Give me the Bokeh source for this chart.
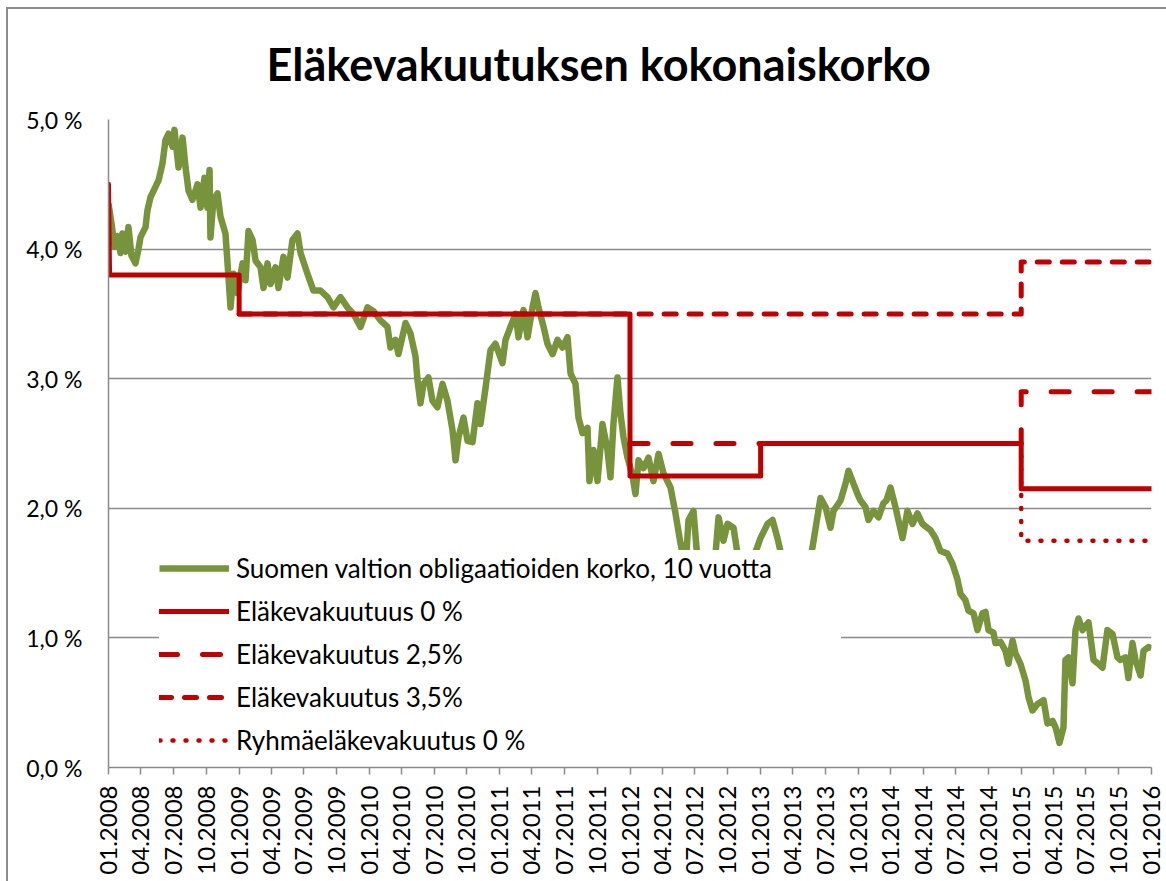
import math
import numpy as np
import pandas as pd
from bokeh.plotting import figure
from bokeh.models import Range1d, FixedTicker, DatetimeTickFormatter, Legend, LegendItem
from bokeh.embed import file_html
from bokeh.resources import INLINE

# ---- data -------------------------------------------------------------
# Suomen valtion obligaatioiden korko, 10 vuotta: years since 01.01.2008, value in %
bond_t = [0.000, 0.023, 0.046, 0.069, 0.092, 0.107, 0.130, 0.153, 0.176, 0.207,
          0.230, 0.245, 0.284, 0.299, 0.322, 0.360, 0.384, 0.414, 0.437, 0.460,
          0.491, 0.506, 0.537, 0.568, 0.591, 0.614, 0.644, 0.683, 0.706, 0.736,
          0.759, 0.775, 0.782, 0.805, 0.836, 0.859, 0.897, 0.913, 0.936, 0.959,
          0.989, 1.028, 1.051, 1.074, 1.105, 1.128, 1.166, 1.189, 1.220, 1.243,
          1.281, 1.304, 1.342, 1.373, 1.411, 1.450, 1.473, 1.526, 1.572, 1.626,
          1.680, 1.726, 1.779, 1.833, 1.879, 1.933, 1.987, 2.033, 2.086, 2.140,
          2.163, 2.201, 2.224, 2.278, 2.316, 2.355, 2.370, 2.393, 2.416, 2.454,
          2.485, 2.523, 2.562, 2.600, 2.639, 2.662, 2.685, 2.723, 2.754, 2.792,
          2.830, 2.853, 2.892, 2.930, 2.968, 3.022, 3.045, 3.083, 3.122, 3.145,
          3.183, 3.214, 3.252, 3.275, 3.298, 3.337, 3.367, 3.406, 3.444, 3.482,
          3.521, 3.544, 3.582, 3.605, 3.636, 3.674, 3.689, 3.720, 3.751, 3.789,
          3.827, 3.850, 3.873, 3.904, 3.927, 3.950, 3.981, 4.019, 4.042, 4.065,
          4.104, 4.142, 4.180, 4.219, 4.257, 4.311, 4.349, 4.387, 4.426, 4.449,
          4.487, 4.518, 4.564, 4.617, 4.656, 4.679, 4.717, 4.748, 4.794, 4.825,
          4.886, 4.940, 5.001, 5.055, 5.093, 5.131, 5.170, 5.231, 5.308, 5.369,
          5.400, 5.461, 5.500, 5.538, 5.561, 5.615, 5.653, 5.676, 5.714, 5.745,
          5.768, 5.806, 5.829, 5.868, 5.906, 5.944, 5.967, 5.998, 6.036, 6.090,
          6.128, 6.167, 6.205, 6.243, 6.305, 6.343, 6.382, 6.435, 6.474, 6.512,
          6.535, 6.573, 6.596, 6.635, 6.665, 6.704, 6.727, 6.750, 6.788, 6.803,
          6.842, 6.880, 6.903, 6.934, 6.957, 6.995, 7.034, 7.057, 7.087, 7.126,
          7.172, 7.202, 7.241, 7.264, 7.294, 7.325, 7.340, 7.363, 7.394, 7.417,
          7.440, 7.471, 7.517, 7.555, 7.593, 7.624, 7.662, 7.701, 7.739, 7.762,
          7.800, 7.823, 7.854, 7.877, 7.916, 7.939, 7.977, 8.000]
bond_val = [4.35, 4.20, 4.02, 4.10, 3.97, 4.12, 3.98, 4.17, 3.95, 3.89,
            4.00, 4.09, 4.17, 4.30, 4.40, 4.48, 4.53, 4.66, 4.84, 4.89,
            4.79, 4.92, 4.63, 4.86, 4.63, 4.45, 4.38, 4.50, 4.32, 4.55,
            4.32, 4.61, 4.09, 4.38, 4.43, 4.25, 4.12, 3.89, 3.55, 3.81,
            3.66, 3.89, 3.76, 4.14, 4.07, 3.91, 3.86, 3.70, 3.89, 3.73,
            3.86, 3.70, 3.94, 3.78, 4.07, 4.12, 3.97, 3.81, 3.68, 3.68,
            3.63, 3.55, 3.63, 3.55, 3.50, 3.40, 3.55, 3.52, 3.45, 3.40,
            3.24, 3.30, 3.19, 3.43, 3.35, 3.17, 2.99, 2.81, 2.96, 3.01,
            2.83, 2.78, 2.96, 2.83, 2.60, 2.37, 2.55, 2.70, 2.52, 2.51,
            2.81, 2.65, 2.93, 3.22, 3.27, 3.12, 3.30, 3.40, 3.50, 3.32,
            3.53, 3.32, 3.55, 3.66, 3.55, 3.40, 3.27, 3.19, 3.30, 3.24,
            3.32, 3.04, 2.96, 2.70, 2.58, 2.62, 2.21, 2.45, 2.21, 2.65,
            2.45, 2.24, 2.65, 3.01, 2.73, 2.55, 2.39, 2.25, 2.11, 2.37,
            2.31, 2.39, 2.21, 2.42, 2.27, 2.16, 1.96, 1.73, 1.55, 1.91,
            1.98, 1.60, 1.45, 1.50, 1.65, 1.93, 1.75, 1.88, 1.85, 1.65,
            1.55, 1.60, 1.77, 1.88, 1.91, 1.77, 1.60, 1.45, 1.50, 1.55,
            1.70, 2.08, 2.01, 1.85, 1.98, 2.06, 2.19, 2.29, 2.19, 2.11,
            2.06, 2.01, 1.91, 1.98, 1.93, 2.04, 2.06, 2.16, 2.01, 1.77,
            1.98, 1.88, 1.96, 1.88, 1.83, 1.77, 1.67, 1.65, 1.57, 1.45,
            1.34, 1.29, 1.21, 1.19, 1.06, 1.19, 1.20, 1.06, 1.04, 0.96,
            0.97, 0.90, 0.80, 0.98, 0.88, 0.80, 0.67, 0.54, 0.44, 0.49,
            0.52, 0.34, 0.36, 0.31, 0.19, 0.31, 0.83, 0.85, 0.65, 1.06,
            1.15, 1.06, 1.12, 0.83, 0.80, 0.77, 1.06, 1.03, 0.85, 0.83,
            0.85, 0.69, 0.96, 0.83, 0.71, 0.90, 0.93, 0.92]

# Eläkevakuutuus 0 %
pension0_dates = ["2008-01-01", "2008-01-04", "2009-01-01", "2009-01-01", "2012-01-01",
                  "2012-01-01", "2013-01-01", "2013-01-01", "2015-01-01", "2015-01-01",
                  "2016-01-01"]
pension0_vals = [4.5, 3.8, 3.8, 3.5, 3.5, 2.25, 2.25, 2.5, 2.5, 2.15, 2.15]
# Eläkevakuutus 2,5%
pension25_dates = ["2012-01-01", "2015-01-01", "2015-01-01", "2016-01-01"]
pension25_vals = [2.5, 2.5, 2.9, 2.9]
# Eläkevakuutus 3,5%
pension35_dates = ["2009-01-01", "2015-01-01", "2015-01-01", "2016-01-01"]
pension35_vals = [3.5, 3.5, 3.9, 3.9]
# Ryhmäeläkevakuutus 0 %
group0_dates = ["2013-01-01", "2015-01-01", "2015-01-01", "2016-01-01"]
group0_vals = [2.5, 2.5, 1.75, 1.75]

series_labels = ["Suomen valtion obligaatioiden korko, 10 vuotta", "Eläkevakuutuus 0 %",
                 "Eläkevakuutus 2,5%", "Eläkevakuutus 3,5%", "Ryhmäeläkevakuutus 0 %"]

x_tick_dates = pd.date_range("2008-01-01", "2016-01-01", freq="QS").strftime("%Y-%m-%d").tolist()
y_ticks = [0, 1, 2, 3, 4, 5]
y_tick_labels = ["0,0 %", "1,0 %", "2,0 %", "3,0 %", "4,0 %", "5,0 %"]

title_text = "Eläkevakuutuksen kokonaiskorko"

# ---- chart ------------------------------------------------------------
FONT = "Lato"
GREEN = "#77933C"
RED = "#C00000"
GRID = "#8a8a8a"

bond_dates = pd.Timestamp("2008-01-01") + pd.to_timedelta(np.array(bond_t) * 365.25, unit="D")

p = figure(width=1166, height=881, x_axis_type="datetime",
           output_backend="svg", toolbar_location=None,
           x_range=Range1d(pd.Timestamp("2008-01-01"), pd.Timestamp("2016-01-01")),
           y_range=Range1d(0, 5),
           min_border_left=108, min_border_right=15, min_border_top=119, min_border_bottom=114)
p.outline_line_color = None
p.background_fill_color = "white"
p.border_fill_color = None
p.styles = {"background": "linear-gradient(#8c8c8c, #8c8c8c) 6px 7px / 2px 100% no-repeat, "
                          "linear-gradient(#8c8c8c, #8c8c8c) 6px 7px / 100% 2px no-repeat, #ffffff"}

p.title.text = title_text
p.title.text_font = FONT
p.title.text_font_size = "45px"
p.title.text_font_style = "bold"
p.title.text_color = "black"
p.title.align = "left"
p.title.offset = 158
p.title.standoff = 57

r_bond = p.line(bond_dates, bond_val, line_color=GREEN, line_width=6.5, line_join="round")
r0 = p.line(pd.to_datetime(pension0_dates), pension0_vals, line_color=RED, line_width=5,
            line_join="round", line_cap="round")
r25 = p.line(pd.to_datetime(pension25_dates), pension25_vals, line_color=RED, line_width=5,
             line_dash="18 25", line_cap="round", line_join="round")
r35 = p.line(pd.to_datetime(pension35_dates), pension35_vals, line_color=RED, line_width=5,
             line_dash="12 13", line_cap="round", line_join="round")
rg = p.line(pd.to_datetime(group0_dates), group0_vals, line_color=RED, line_width=4.5,
            line_dash="1 12", line_cap="round", line_join="round")

# axes
xt = [pd.Timestamp(d).value / 1e6 for d in x_tick_dates]
p.xaxis.ticker = FixedTicker(ticks=xt)
fmt = "%m.%Y"
p.xaxis.formatter = DatetimeTickFormatter(milliseconds=fmt, seconds=fmt, minsec=fmt, minutes=fmt,
                                          hourmin=fmt, hours=fmt, days=fmt, months=fmt, years=fmt)
p.xaxis.major_label_orientation = math.pi / 2
p.xaxis.major_tick_out = 7
p.xaxis.major_tick_in = 0
p.xaxis.major_label_standoff = 11
p.xaxis.minor_tick_line_color = None

p.yaxis.ticker = FixedTicker(ticks=y_ticks)
p.yaxis.major_label_overrides = {float(t): lab for t, lab in zip(y_ticks, y_tick_labels)}
p.yaxis.major_tick_out = 0
p.yaxis.major_tick_in = 0
p.yaxis.minor_tick_line_color = None
p.yaxis.major_label_standoff = 26

for ax in (p.xaxis[0], p.yaxis[0]):
    ax.axis_line_color = GRID
    ax.axis_line_width = 1.5
    ax.major_tick_line_color = GRID
    ax.major_tick_line_width = 1.5
    ax.major_label_text_font = FONT
    ax.major_label_text_color = "black"
p.xaxis.major_label_text_font_size = "24px"
p.yaxis.major_label_text_font_size = "23px"

p.xgrid.grid_line_color = None
p.ygrid.grid_line_color = GRID
p.ygrid.grid_line_width = 1.5

legend = Legend(items=[LegendItem(label=lab, renderers=[r]) for lab, r in
                       zip(series_labels, [r_bond, r0, r25, r35, rg])],
                location=(51, 9), orientation="vertical",
                glyph_width=70, glyph_height=36, label_height=36, spacing=7,
                label_standoff=7, padding=6, label_width=605,
                label_text_font=FONT, label_text_font_size="26px", label_text_color="black",
                background_fill_color="white", background_fill_alpha=1.0,
                border_line_color=None)
p.add_layout(legend, "center")

open("out.html", "w").write(file_html(p, INLINE))
